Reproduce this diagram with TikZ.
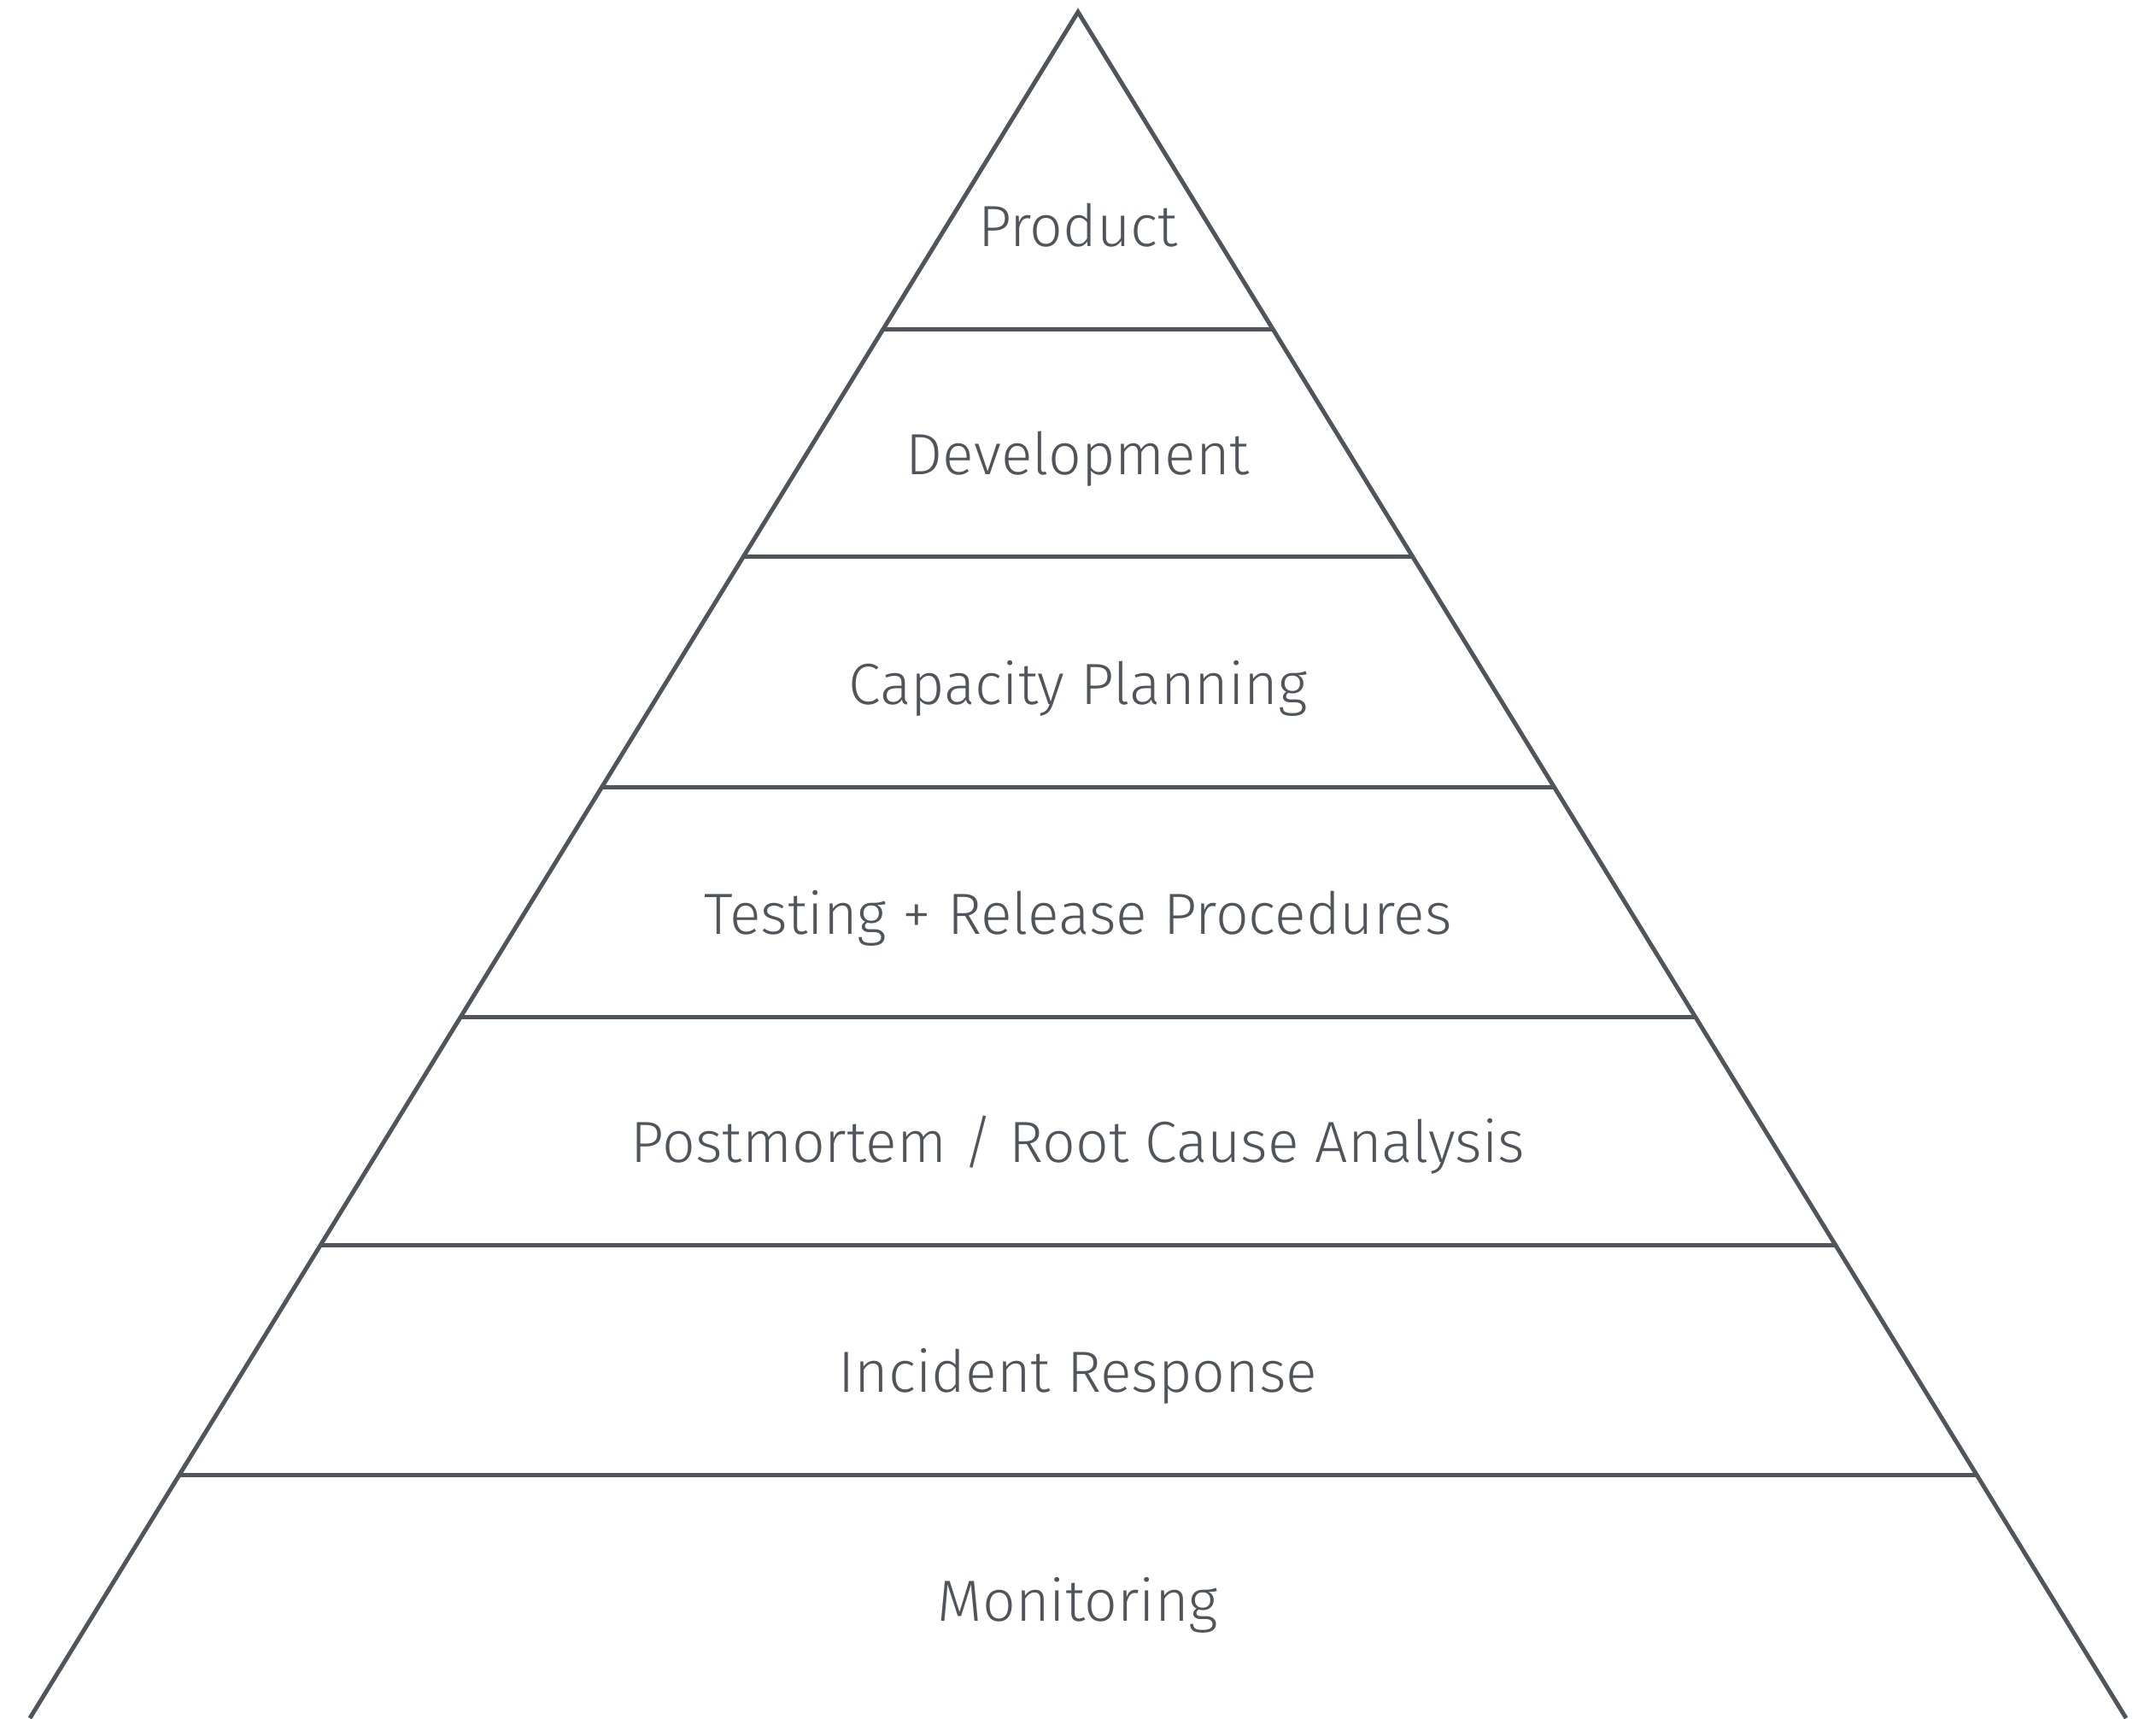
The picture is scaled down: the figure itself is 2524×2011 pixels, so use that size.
\documentclass[tikz,border=0pt]{standalone}
\usepackage{fontspec}
\setmainfont{Fira Sans}[UprightFont=* Light]
\usetikzlibrary{calc}
\definecolor{ink}{HTML}{50555C}
\begin{document}
\begin{tikzpicture}[x=1pt,y=1pt,
  edge/.style={draw=ink,line width=5pt,line join=miter,line cap=butt},
  lbl/.style={anchor=base,text=ink,inner sep=0pt,font=\fontsize{68}{78}\selectfont}]
\useasboundingbox (0,0) rectangle (2524,-2011);
\coordinate (apex) at (1262,-14);
\coordinate (bl) at (35,-2011);
\coordinate (br) at (2489,-2011);
\draw[edge] (bl) -- (apex) -- (br);
\foreach \n/\f in {1/0.18578,2/0.31948,3/0.45418,4/0.58888,5/0.72258,6/0.85728}{
  \coordinate (l\n) at ($(apex)!\f!(bl)$);
  \coordinate (r\n) at ($(apex)!\f!(br)$);
  \draw[edge] (l\n) -- (r\n);
}
\node[lbl] (product) at (1262,-288) {Product};
\node[lbl] (development) at (1262,-555) {Development};
\node[lbl] (capacity) at (1262,-824) {Capacity Planning};
\node[lbl] (testing) at (1262,-1093) {Testing + Release Procedures};
\node[lbl] (postmortem) at (1262,-1360) {Postmortem / Root Cause Analysis};
\node[lbl] (incident) at (1262,-1629) {Incident Response};
\node[lbl] (monitoring) at (1262,-1897) {Monitoring};
\end{tikzpicture}
\end{document}
